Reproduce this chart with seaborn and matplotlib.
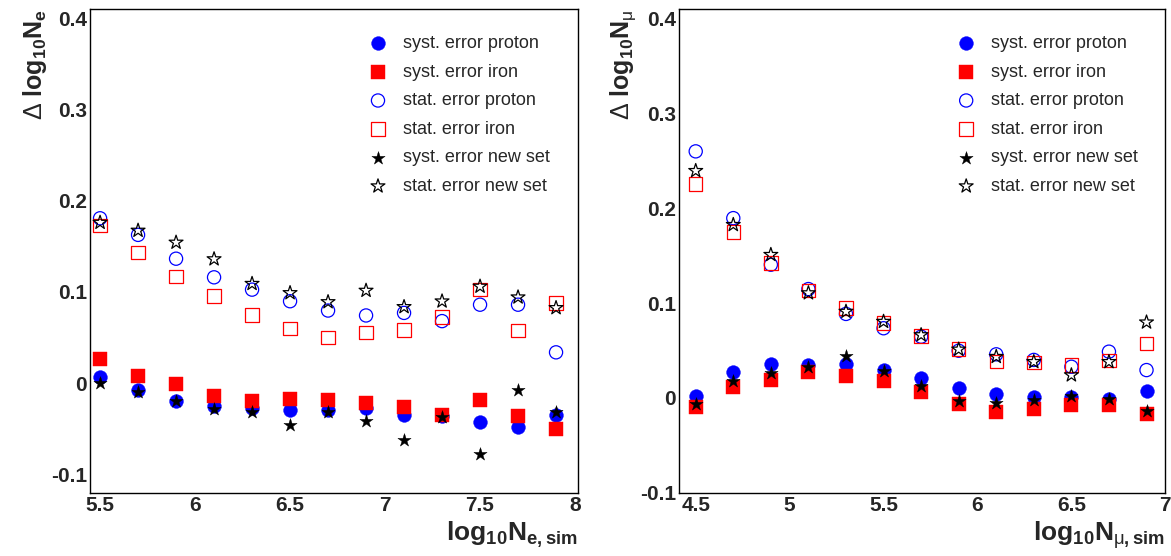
import numpy as np
import pandas as pd
import matplotlib
matplotlib.use("Agg")
import matplotlib.pyplot as plt
from matplotlib.ticker import MultipleLocator, FixedLocator, FixedFormatter
import seaborn as sns

# ---------------- data ----------------
x_e = [5.5, 5.7, 5.9, 6.1, 6.3, 6.5, 6.7, 6.9, 7.1, 7.3, 7.5, 7.7, 7.9]
syst_p_e = [0.0073, -0.0073, -0.0193, -0.0247, -0.0273, -0.0298, -0.0290, -0.0273, -0.0345, -0.0364, -0.0429, -0.0484, -0.0345]
syst_fe_e = [0.0262, 0.0080, -0.0007, -0.0145, -0.0200, -0.0175, -0.0182, -0.0218, -0.0265, -0.0345, -0.0182, -0.0364, -0.0502]
stat_p_e = [0.1807, 0.1625, 0.1364, 0.1160, 0.1025, 0.0898, 0.0796, 0.0742, 0.0770, 0.0680, 0.0860, 0.0860, 0.0338]
stat_fe_e = [0.1727, 0.1433, 0.1170, 0.0953, 0.0745, 0.0600, 0.0498, 0.0553, 0.0582, 0.0727, 0.1025, 0.0580, 0.0880]
syst_new_e = [0.0007, -0.0102, -0.0200, -0.0284, -0.0320, -0.0462, -0.0320, -0.0411, -0.0625, -0.0371, -0.0771, -0.0073, -0.0316]
stat_new_e = [0.1760, 0.1673, 0.1542, 0.1360, 0.1090, 0.0989, 0.0890, 0.1015, 0.0836, 0.0898, 0.1060, 0.0942, 0.0825]

x_mu = [4.5, 4.7, 4.9, 5.1, 5.3, 5.5, 5.7, 5.9, 6.1, 6.3, 6.5, 6.7, 6.9]
syst_p_mu = [0.0021, 0.0275, 0.0353, 0.0346, 0.0353, 0.0293, 0.0205, 0.0099, 0.0039, 0.0004, 0.0011, -0.0007, 0.0070]
syst_fe_mu = [-0.0095, 0.0116, 0.0187, 0.0275, 0.0229, 0.0180, 0.0063, -0.0067, -0.0148, -0.0113, -0.0078, -0.0078, -0.0166]
stat_p_mu = [0.2599, 0.1895, 0.1404, 0.1147, 0.0885, 0.0734, 0.0645, 0.0497, 0.0459, 0.0400, 0.0328, 0.0487, 0.0293]
stat_fe_mu = [0.2257, 0.1747, 0.1421, 0.1130, 0.0945, 0.0787, 0.0653, 0.0515, 0.0381, 0.0370, 0.0346, 0.0392, 0.0575]
syst_new_mu = [-0.0060, 0.0176, 0.0257, 0.0321, 0.0441, 0.0282, 0.0123, -0.0032, -0.0053, -0.0018, 0.0018, -0.0007, -0.0138]
stat_new_mu = [0.2394, 0.1825, 0.1509, 0.1105, 0.0910, 0.0804, 0.0663, 0.0511, 0.0434, 0.0380, 0.0240, 0.0380, 0.0797]

series_labels = ["syst. error proton", "syst. error iron", "stat. error proton",
                 "stat. error iron", "syst. error new set", "stat. error new set"]

y_ticks = [-0.1, 0.0, 0.1, 0.2, 0.3, 0.4]
y_ticklabels = ["-0.1", "0", "0.1", "0.2", "0.3", "0.4"]
x_ticks_e = [5.5, 6.0, 6.5, 7.0, 7.5, 8.0]
x_ticklabels_e = ["5.5", "6", "6.5", "7", "7.5", "8"]
x_ticks_mu = [4.5, 5.0, 5.5, 6.0, 6.5, 7.0]
x_ticklabels_mu = ["4.5", "5", "5.5", "6", "6.5", "7"]

# ---------------- style ----------------
sns.set_style("white")
plt.rcParams["font.family"] = ["Liberation Sans", "DejaVu Sans"]
plt.rcParams["mathtext.fontset"] = "custom"
plt.rcParams["mathtext.rm"] = "Liberation Sans"
plt.rcParams["mathtext.bf"] = "Liberation Sans:bold"
plt.rcParams["mathtext.it"] = "Liberation Sans:bold"
plt.rcParams["mathtext.sf"] = "Liberation Sans:bold"
plt.rcParams["mathtext.default"] = "bf"
plt.rcParams["axes.unicode_minus"] = False

BLUE = "#0000ff"
RED = "#ff0000"
BLACK = "#000000"
# (marker, filled, color, size)
styles = [
    ("o", True, BLUE, 98),
    ("s", True, RED, 96),
    ("o", False, BLUE, 90),
    ("s", False, RED, 94),
    ("*", True, BLACK, 100),
    ("*", False, BLACK, 110),
]

fig = plt.figure(figsize=(11.71, 5.56), dpi=100)
W, H = 1171.0, 556.0
ax1 = fig.add_axes([90 / W, 1 - 492.7 / H, 487.7 / W, 483.7 / H])
ax2 = fig.add_axes([679 / W, 1 - 492.7 / H, 486.3 / W, 483.7 / H])

panels = [
    (ax1, x_e, [syst_p_e, syst_fe_e, stat_p_e, stat_fe_e, syst_new_e, stat_new_e],
     (5.447, 8.014), (-0.12, 0.41), x_ticks_e, x_ticklabels_e,
     r"$\mathrm{\Delta}$ log$_{10}$N$_{e}$", r"log$_{10}$N$_{e,sim}$"),
    (ax2, x_mu, [syst_p_mu, syst_fe_mu, stat_p_mu, stat_fe_mu, syst_new_mu, stat_new_mu],
     (4.411, 7.0), (-0.10, 0.41), x_ticks_mu, x_ticklabels_mu,
     r"$\mathrm{\Delta}$ log$_{10}$N$_{\mathrm{\mu}}$", r"log$_{10}$N$_{\mathrm{\mu},sim}$"),
]

for ax, xs, ys_list, xlim, ylim, xt, xtl, ylab, xlab in panels:
    for ys, (mk, filled, col, sz), lab in zip(ys_list, styles, series_labels):
        df = pd.DataFrame({"x": xs, "y": ys})
        if filled:
            sns.scatterplot(data=df, x="x", y="y", ax=ax, marker=mk, s=sz,
                            color=col, edgecolor=col, linewidth=0.3, label=lab, zorder=3)
        else:
            sns.scatterplot(data=df, x="x", y="y", ax=ax, marker=mk, s=sz,
                            facecolor="none", edgecolor=col, linewidth=0.9, label=lab, zorder=3)
    ax.set_xlim(*xlim)
    ax.set_ylim(*ylim)
    ax.xaxis.set_major_locator(FixedLocator(xt))
    ax.xaxis.set_major_formatter(FixedFormatter(xtl))
    ax.xaxis.set_minor_locator(MultipleLocator(0.1))
    ax.yaxis.set_major_locator(FixedLocator(y_ticks))
    ax.yaxis.set_major_formatter(FixedFormatter(y_ticklabels))
    ax.yaxis.set_minor_locator(MultipleLocator(0.02))
    ax.tick_params(axis="both", which="both", direction="in", top=False, right=False,
                   color="#333333", width=1.0)
    ax.tick_params(axis="y", which="major", length=11.5, pad=2, labelsize=15)
    ax.tick_params(axis="y", which="minor", length=5.8)
    ax.tick_params(axis="x", which="major", length=10, pad=2.5, labelsize=15)
    ax.tick_params(axis="x", which="minor", length=4.3)
    for lbl in ax.get_xticklabels() + ax.get_yticklabels():
        lbl.set_fontweight("bold")
    for sp in ax.spines.values():
        sp.set_color("black")
        sp.set_linewidth(1.0)
    ax.set_ylabel(ylab, fontsize=18, fontweight="bold", loc="top")
    ax.yaxis.set_label_coords(-0.084, 1.0)
    ax.set_xlabel(xlab, fontsize=19, fontweight="bold", loc="right")
    ax.xaxis.set_label_coords(1.0, -0.056)
    ax.legend(loc="upper left", bbox_to_anchor=(0.572, 0.946), frameon=False,
              fontsize=13, handlelength=1.0, handletextpad=0.9, labelspacing=0.64,
              borderpad=0, borderaxespad=0, scatterpoints=1)

fig.savefig("out.png", dpi=100)
